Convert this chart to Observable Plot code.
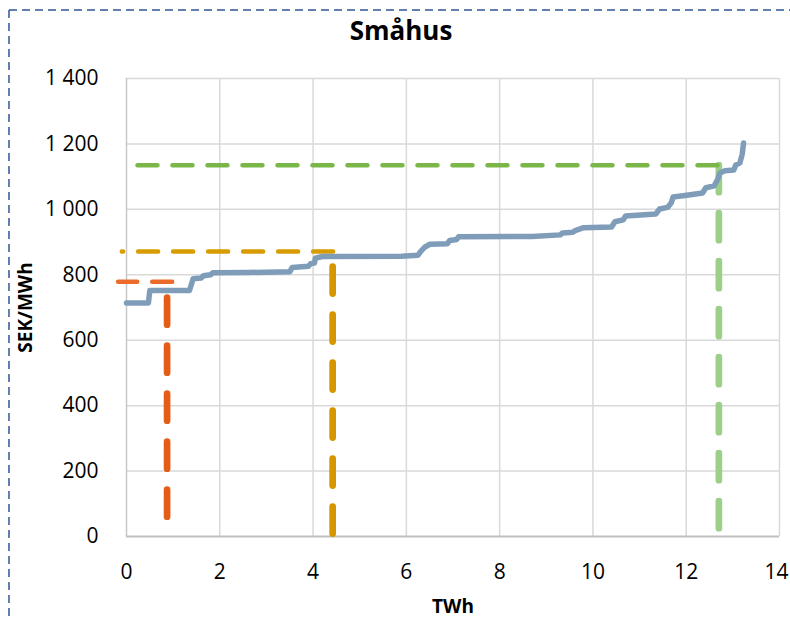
<!DOCTYPE html>
<html>
<head>
<meta charset="utf-8">
<script src="https://cdn.jsdelivr.net/npm/d3@7"></script>
<script src="https://cdn.jsdelivr.net/npm/@observablehq/plot@0.6"></script>
<style>
  html, body { margin: 0; padding: 0; background: #fff; }
  #wrap { position: relative; width: 790px; height: 618px; overflow: hidden; font-family: "Open Sans", sans-serif; }
  #title { position: absolute; left: 0; width: 802px; top: 12px; text-align: center; font-weight: bold; font-size: 26px; color: #000; line-height: 36px; }
  #chart { position: absolute; left: 0; top: 55px; }
  #frame { position: absolute; left: 0; top: 0; }
</style>
</head>
<body>
<div id="wrap">
  <svg id="frame" width="790" height="618">
    <line x1="9" y1="10" x2="790" y2="10" stroke="#2f5597" stroke-width="1.5" stroke-dasharray="8,5"/>
    <line x1="9" y1="10" x2="9" y2="618" stroke="#2f5597" stroke-width="1.5" stroke-dasharray="8,5"/>
  </svg>
  <div id="title">Småhus</div>
  <div id="chart"></div>
</div>
<script>
const title = "Småhus";
const xLabel = "TWh";
const yLabel = "SEK/MWh";
const xTicks = [0, 2, 4, 6, 8, 10, 12, 14];
const yTicks = [0, 200, 400, 600, 800, 1000, 1200, 1400];

// supply curve (TWh, SEK/MWh)
const curveX = [0, 0.47, 0.5, 1.35, 1.4, 1.43, 1.6, 1.65, 1.8, 1.85, 2.6, 3.5, 3.55, 3.9, 3.95, 4.03, 4.05, 4.2, 5.9, 6.25, 6.3, 6.4, 6.5, 6.88, 6.93, 7.08, 7.12, 8.7, 9.3, 9.35, 9.57, 9.62, 9.8, 10.4, 10.47, 10.65, 10.7, 11.35, 11.43, 11.6, 11.68, 11.72, 12.05, 12.35, 12.42, 12.6, 12.68, 12.72, 12.83, 13.02, 13.06, 13.15, 13.2, 13.23];
const curveY = [714, 714, 752, 752, 775, 788, 790, 797, 800, 806, 807, 809, 822, 826, 834, 836, 851, 856, 857, 860, 870, 885, 893, 895, 905, 908, 916, 917, 922, 928, 930, 935, 944, 946, 962, 968, 980, 986, 1001, 1006, 1020, 1038, 1044, 1050, 1066, 1072, 1093, 1111, 1118, 1120, 1135, 1142, 1168, 1203];

// reference (dashed) lines: orange, gold, green
const refX = [0.87, 4.42, 12.70];
const refY = [779, 871, 1135];
const refHStart = [-0.18, -0.1, -0.05];
const refHEnd = [0.98, 4.43, 12.67];
const refHColor = ["#ec6a2a", "#d89b00", "#7ab648"];
const refVColor = ["#e55c17", "#d69600", "#9ccf88"];
const refVOffset = [32, 33, 0];

const curve = curveX.map((x, i) => ({x, y: curveY[i]}));
const refMarks = [];
refX.forEach((rx, i) => {
  refMarks.push(Plot.line([{x: rx, y: refY[i]}, {x: rx, y: 0}], {
    x: "x", y: "y", stroke: refVColor[i], strokeWidth: 6.7,
    strokeDasharray: "27,21", strokeDashoffset: refVOffset[i]
  }));
  refMarks.push(Plot.line([{x: refHEnd[i], y: refY[i]}, {x: refHStart[i], y: refY[i]}], {
    x: "x", y: "y", stroke: refHColor[i], strokeWidth: 4.5,
    strokeDasharray: "20,15", strokeDashoffset: 0
  }));
});

const fmt = d => d3.format(",")(d).replace(/,/g, "\u00a0");
const lastX = xTicks[xTicks.length - 1];

const chart = Plot.plot({
  width: 790,
  height: 563,
  marginLeft: 126,
  marginRight: 11,
  marginTop: 23,
  marginBottom: 82,
  x: {domain: [0, 14]},
  y: {domain: [0, 1400]},
  style: {fontFamily: "Open Sans, sans-serif", fontSize: "21px", color: "#000", background: "transparent", overflow: "visible"},
  marks: [
    Plot.gridX(xTicks.filter(d => d > 0), {stroke: "#d9d9d9", strokeOpacity: 1, strokeWidth: 1.5}),
    Plot.gridY(yTicks.filter(d => d > 0), {stroke: "#d9d9d9", strokeOpacity: 1, strokeWidth: 1.5}),
    Plot.ruleX([0], {stroke: "#c8c8c8", strokeWidth: 1.5}),
    Plot.ruleY([0], {stroke: "#bfbfbf", strokeWidth: 2}),
    Plot.axisX(xTicks.filter(d => d < lastX), {tickSize: 0, tickPadding: 28, label: null, fontSize: 21}),
    Plot.axisX([lastX], {tickSize: 0, tickPadding: 28, label: null, fontSize: 21, dx: -3}),
    Plot.axisY(yTicks, {tickSize: 0, tickPadding: 28, label: null, tickFormat: fmt, fontSize: 21}),
    ...refMarks,
    Plot.line(curve, {x: "x", y: "y", stroke: "#7f9db9", strokeWidth: 5.5, strokeLinejoin: "round", strokeLinecap: "round"}),
    Plot.text([xLabel], {frameAnchor: "bottom", lineAnchor: "top", dy: 63, fontWeight: "bold", fontSize: 19}),
    Plot.text([yLabel], {frameAnchor: "left", textAnchor: "middle", rotate: -90, dx: -101, fontWeight: "bold", fontSize: 19})
  ]
});
document.getElementById("chart").appendChild(chart);
document.getElementById("title").textContent = title;
</script>
</body>
</html>
